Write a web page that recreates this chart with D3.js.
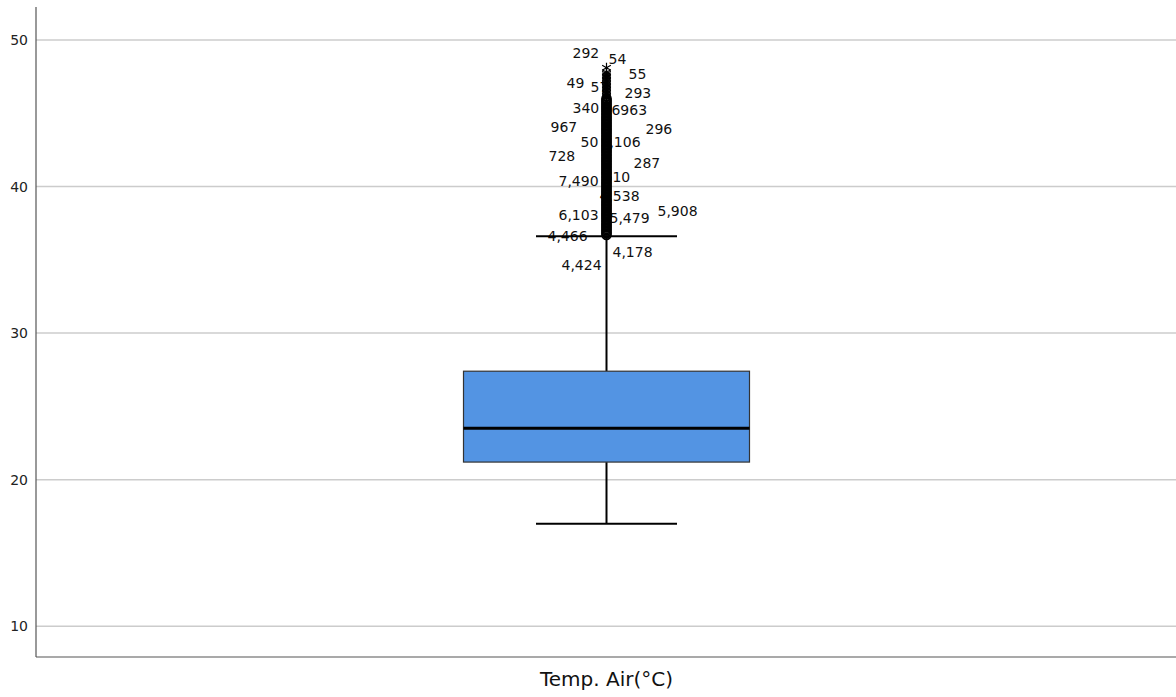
<!DOCTYPE html>
<html>
<head>
<meta charset="utf-8">
<script src="https://cdn.jsdelivr.net/npm/d3@7"></script>
<style>
  body { margin: 0; background: #fff; }
  svg { display: block; }
</style>
</head>
<body>
<svg></svg>
<script>
// box summary for Temp. Air(°C)
let category = "Temp. Air(°C)";
let stats = { min: 17.0, q1: 21.2, median: 23.5, q3: 27.4, max: 36.6 };

// outliers (o) and extremes (*)
let outliers = [36.7, 36.8, 36.9, 37.0, 37.1, 37.2, 37.3, 37.4, 37.5, 37.6, 37.7, 37.8, 37.9,
                38.0, 38.1, 38.2, 38.3, 38.4, 38.5, 38.6, 38.7, 38.8, 38.9, 39.0, 39.1, 39.2,
                39.3, 39.4, 39.5, 39.6, 39.7, 39.8, 39.9, 40.0, 40.1, 40.2, 40.3, 40.4, 40.5,
                40.6, 40.7, 40.8, 40.9, 41.0, 41.1, 41.2, 41.3, 41.4, 41.5, 41.6, 41.7, 41.8,
                41.9, 42.0, 42.1, 42.2, 42.3, 42.4, 42.5, 42.6, 42.7, 42.8, 42.9, 43.0, 43.1,
                43.2, 43.3, 43.4, 43.5, 43.6, 43.7, 43.8, 43.9, 44.0, 44.1, 44.2, 44.3, 44.4,
                44.5, 44.6, 44.7, 44.8, 44.9, 45.0, 45.1, 45.2, 45.3, 45.4, 45.5, 45.6, 45.7,
                45.8, 45.9, 46.0];
let extremes = [46.1, 46.2, 46.3, 46.4, 46.5, 46.6, 46.7, 46.8, 46.9, 47.0, 47.1, 47.2,
                47.3, 47.4, 47.5, 47.6, 47.7, 47.8, 48.1];

// case labels and the value level where each one sits
let caseLabels = ["292", "54", "55", "49", "57", "293", "340", "56963", "967", "296", "50",
                  "5,106", "728", "287", "7,490", "610", "4,538", "6,103", "5,479", "5,908",
                  "4,466", "4,178", "4,424"];
let caseLabelValues = [49.11, 48.70, 47.68, 47.06, 46.79, 46.38, 45.36, 45.22, 44.06, 43.92, 43.04,
                       43.04, 42.08, 41.60, 40.38, 40.65, 39.35, 38.05, 37.85, 38.33,
                       36.62, 35.53, 34.64];

let yTicks = [10, 20, 30, 40, 50];

let width = 1176;
let height = 697;
let padLeft = 36;
let padBottom = 657;
let padTop = 7;

let svg = d3.select("svg").attr("width", width).attr("height", height);

let yScale = d3.scaleLinear().domain([7.9, 52.25]).range([padBottom, padTop]);
let xScale = d3.scaleBand().domain([category]).range([padLeft, width]).paddingInner(0).paddingOuter(0);

let cx = xScale(category) + xScale.bandwidth() / 2 + 0.5;
let boxW = 286;
let capW = 141;

// label placement beside the outlier column (horizontal offset from centre)
let labelDx = [-34, 2, 22, -40, -16, 18, -34, -4, -56, 39, -26,
               -6, -58, 27, -48, -3, -7, -48, 3, 51,
               -59, 6, -45];

// grid
svg.append("g")
   .selectAll("line")
   .data(yTicks)
   .enter()
   .append("line")
   .attr("x1", padLeft)
   .attr("x2", width)
   .attr("y1", d => yScale(d))
   .attr("y2", d => yScale(d))
   .attr("stroke", "#cccccc")
   .attr("stroke-width", 1.5);

// y axis
let yAxis = d3.axisLeft(yScale).tickValues(yTicks).tickSize(0).tickPadding(8).tickFormat(d3.format("d"));
let yg = svg.append("g")
   .attr("transform", `translate(${padLeft}, 0)`)
   .call(yAxis);
yg.select(".domain").remove();
yg.selectAll("text")
  .attr("font-family", "DejaVu Sans")
  .attr("font-size", 14)
  .attr("fill", "#222");

svg.append("line")
   .attr("x1", padLeft).attr("x2", padLeft)
   .attr("y1", padTop).attr("y2", padBottom)
   .attr("stroke", "#555").attr("stroke-width", 1.2);
svg.append("line")
   .attr("x1", padLeft).attr("x2", width)
   .attr("y1", padBottom).attr("y2", padBottom)
   .attr("stroke", "#555").attr("stroke-width", 1.2);

// x label
svg.append("text")
   .attr("x", cx)
   .attr("y", 686)
   .attr("text-anchor", "middle")
   .attr("font-family", "DejaVu Sans")
   .attr("font-size", 20)
   .attr("fill", "#111")
   .text(category);

// case labels (under the marks)
svg.append("g")
   .selectAll("text")
   .data(caseLabels)
   .enter()
   .append("text")
   .attr("x", (d, i) => cx + labelDx[i])
   .attr("y", (d, i) => yScale(caseLabelValues[i]) + 5)
   .attr("font-family", "DejaVu Sans")
   .attr("font-size", 14)
   .attr("fill", "#111")
   .text(d => d);

// whiskers
svg.append("line")
   .attr("x1", cx).attr("x2", cx)
   .attr("y1", yScale(stats.max)).attr("y2", yScale(stats.q3))
   .attr("stroke", "#000").attr("stroke-width", 2);
svg.append("line")
   .attr("x1", cx).attr("x2", cx)
   .attr("y1", yScale(stats.q1)).attr("y2", yScale(stats.min))
   .attr("stroke", "#000").attr("stroke-width", 2);
svg.append("g")
   .selectAll("line")
   .data([stats.min, stats.max])
   .enter()
   .append("line")
   .attr("x1", cx - capW / 2).attr("x2", cx + capW / 2)
   .attr("y1", d => yScale(d)).attr("y2", d => yScale(d))
   .attr("stroke", "#000").attr("stroke-width", 2);

// box
svg.append("rect")
   .attr("x", cx - boxW / 2)
   .attr("y", yScale(stats.q3))
   .attr("width", boxW)
   .attr("height", yScale(stats.q1) - yScale(stats.q3))
   .attr("fill", "#5394e3")
   .attr("stroke", "#333")
   .attr("stroke-width", 1.2);
svg.append("line")
   .attr("x1", cx - boxW / 2).attr("x2", cx + boxW / 2)
   .attr("y1", yScale(stats.median)).attr("y2", yScale(stats.median))
   .attr("stroke", "#000").attr("stroke-width", 3);

// outliers
svg.append("g")
   .selectAll("circle")
   .data(outliers)
   .enter()
   .append("circle")
   .attr("cx", cx)
   .attr("cy", d => yScale(d))
   .attr("r", 4.4)
   .attr("fill", "none")
   .attr("stroke", "#000")
   .attr("stroke-width", 1.8);

let star = d3.symbol().type(d3.symbolAsterisk).size(70);
svg.append("g")
   .selectAll("path")
   .data(extremes)
   .enter()
   .append("path")
   .attr("d", star)
   .attr("transform", d => `translate(${cx}, ${yScale(d)})`)
   .attr("fill", "none")
   .attr("stroke", "#000")
   .attr("stroke-width", 1.2);
</script>
</body>
</html>
